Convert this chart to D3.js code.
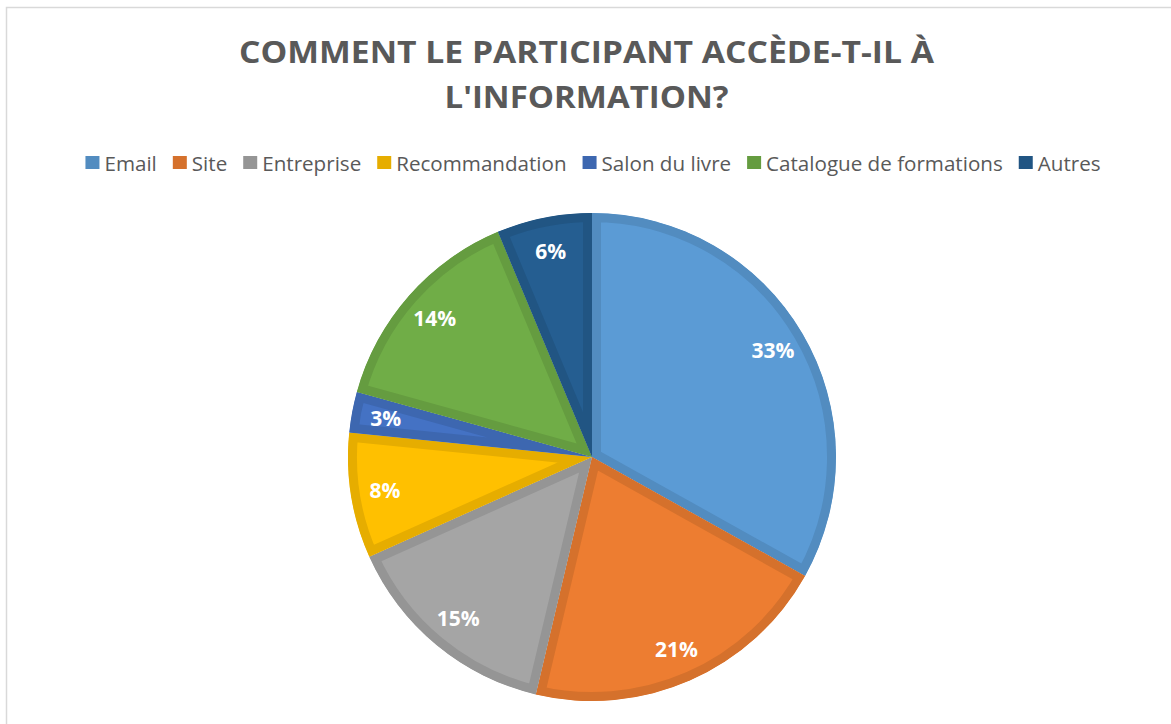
<!DOCTYPE html>
<html>
<head>
<meta charset="utf-8">
<script src="https://cdn.jsdelivr.net/npm/d3@7/dist/d3.min.js"></script>
<style>
  html, body { margin: 0; padding: 0; background: #ffffff; }
  svg { display: block; }
</style>
</head>
<body>
<script>
// ---- Data ----
const categories = ["Email", "Site", "Entreprise", "Recommandation", "Salon du livre", "Catalogue de formations", "Autres"];
const values = [33.1, 20.6, 14.6, 8.3, 2.7, 14.4, 6.3];
const colors = ["#5B9BD5", "#ED7D31", "#A5A5A5", "#FFC000", "#4472C4", "#70AD47", "#255E91"];
const titleLines = ["COMMENT LE PARTICIPANT ACCÈDE-T-IL À", "L'INFORMATION?"];

const W = 1171, H = 724;
const svg = d3.select("body").append("svg").attr("width", W).attr("height", H);

svg.append("rect").attr("width", W).attr("height", H).attr("fill", "#fff");
// chart frame
svg.append("rect").attr("x", 6.5).attr("y", 7.5).attr("width", 1300).attr("height", 900)
  .attr("fill", "none").attr("stroke", "#d9d9d9").attr("stroke-width", 1.5);

// ---- Title ----
const titleY = [63, 108];
const titleW = [695, 284];
titleLines.forEach((t, i) => {
  svg.append("text")
    .attr("x", W / 2 + 1).attr("y", titleY[i])
    .attr("text-anchor", "middle")
    .attr("font-family", "'Open Sans', sans-serif")
    .attr("font-weight", 700)
    .attr("font-size", 31)
    .attr("fill", "#595959")
    .attr("textLength", titleW[i])
    .attr("lengthAdjust", "spacingAndGlyphs")
    .text(t);
});

const color = d3.scaleOrdinal().domain(categories).range(colors);
const darkColor = c => { const k = d3.rgb(c); return d3.rgb(k.r * 0.9, k.g * 0.9, k.b * 0.9).formatHex(); };

// ---- Legend ----
const legend = svg.append("g");
const sq = 14, textOff = 19, gap = 16;
let lx = 0;
categories.forEach((c, i) => {
  const g = legend.append("g").attr("transform", `translate(${lx},0)`);
  g.append("rect").attr("x", 0).attr("y", -7).attr("width", sq).attr("height", sq - 1)
    .attr("fill", darkColor(color(c)));
  const t = g.append("text").attr("x", textOff).attr("y", 7.5)
    .attr("font-family", "'Open Sans', sans-serif").attr("font-size", 20.6)
    .attr("fill", "#595959").text(c);
  lx += textOff + t.node().getComputedTextLength() + gap;
});
const legendW = lx - gap;
legend.attr("transform", `translate(${(81 + 1105) / 2 - legendW / 2},163)`);

// ---- Pie ----
const cx = 592, cy = 457, R = 244;
const pie = d3.pie().sort(null).value(d => d.v).startAngle(0).endAngle(2 * Math.PI);
const data = pie(categories.map((c, i) => ({ c, v: values[i] })));
const total = d3.sum(values);
const arc = d3.arc().innerRadius(0).outerRadius(R);
const labelArc = d3.arc().innerRadius(R * 0.86).outerRadius(R * 0.86);

const defs = svg.append("defs");

data.forEach((d, i) => {
  const id = "clip" + i;
  defs.append("clipPath").attr("id", id).append("path").attr("d", arc(d))
    .attr("transform", `translate(${cx},${cy})`);
  const g = svg.append("g").attr("clip-path", `url(#${id})`)
    .append("g").attr("transform", `translate(${cx},${cy})`);
  g.append("path").attr("d", arc(d))
    .attr("fill", color(d.data.c))
    .attr("stroke", darkColor(color(d.data.c)))
    .attr("stroke-width", 18)
    .attr("stroke-linejoin", "miter");
});

const lg = svg.append("g").attr("transform", `translate(${cx},${cy})`);
data.forEach(d => {
  const [x, y] = labelArc.centroid(d);
  lg.append("text").attr("x", x).attr("y", y).attr("dy", "0.36em")
    .attr("text-anchor", "middle")
    .attr("font-family", "'Open Sans', sans-serif")
    .attr("font-weight", 700).attr("font-size", 21)
    .attr("fill", "#ffffff")
    .text(Math.round(d.data.v / total * 100) + "%");
});
</script>
</body>
</html>
